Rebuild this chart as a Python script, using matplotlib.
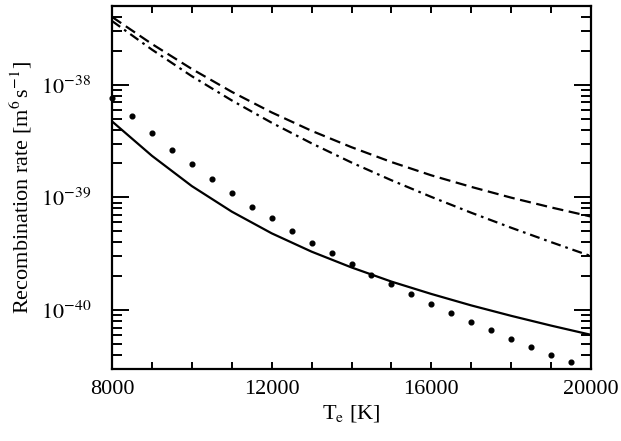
import numpy as np
import matplotlib
matplotlib.use("Agg")
import matplotlib.pyplot as plt
from matplotlib.ticker import FixedLocator, LogLocator, NullFormatter

plt.rcParams['font.family'] = ['Liberation Serif', 'DejaVu Serif']
plt.rcParams['mathtext.fontset'] = 'stix'

# temperatures of the curves [K]
T_line = [8000, 9000, 10000, 11000, 12000, 13000, 14000,
          15000, 16000, 17000, 18000, 19000, 20000]

# dashed curve
rate_dash = [4.00e-38, 2.30e-38, 1.38e-38, 8.65e-39, 5.68e-39, 3.90e-39, 2.79e-39,
             2.06e-39, 1.57e-39, 1.24e-39, 9.95e-40, 8.15e-40, 6.76e-40]
# dash-dot curve
rate_dashdot = [3.68e-38, 2.05e-38, 1.19e-38, 7.26e-39, 4.60e-39, 3.02e-39, 2.04e-39,
                1.42e-39, 1.01e-39, 7.31e-40, 5.38e-40, 4.01e-40, 3.01e-40]
# solid curve
rate_solid = [4.73e-39, 2.34e-39, 1.26e-39, 7.48e-40, 4.80e-40, 3.30e-40, 2.39e-40,
              1.79e-40, 1.39e-40, 1.10e-40, 8.89e-41, 7.28e-41, 6.03e-41]

# dotted points
T_dot = [8000, 8500, 9000, 9500, 10000, 10500, 11000, 11500, 12000, 12500,
         13000, 13500, 14000, 14500, 15000, 15500, 16000, 16500, 17000,
         17500, 18000, 18500, 19000, 19500]
rate_dot = [7.6e-39, 5.24e-39, 3.7e-39, 2.66e-39, 1.96e-39, 1.45e-39, 1.09e-39,
            8.3e-40, 6.5e-40, 5.03e-40, 3.97e-40, 3.18e-40, 2.54e-40, 2.05e-40,
            1.69e-40, 1.38e-40, 1.14e-40, 9.47e-41, 7.88e-41, 6.61e-41, 5.57e-41,
            4.74e-41, 4.02e-41, 3.44e-41]

x_ticks = [8000, 12000, 16000, 20000]

fig = plt.figure(figsize=(6.21, 4.41), dpi=100)
ax = fig.add_axes([0.1804, 0.1633, 0.7713, 0.8231])

ax.plot(T_line, rate_dash, color='black', lw=1.6, dashes=(5, 2.5))
ax.plot(T_line, rate_dashdot, color='black', lw=1.6, dashes=(4.5, 2.2, 1.2, 2.2))
ax.plot(T_line, rate_solid, color='black', lw=1.6)
ax.plot(T_dot, rate_dot, ls='none', marker='o', ms=3.4, color='black', clip_on=False)

ax.set_yscale('log')
ax.set_xlim(8000, 20000)
ax.set_ylim(3e-41, 5e-38)

ax.set_xticks(x_ticks)
ax.set_xticklabels([str(t) for t in x_ticks])
ax.xaxis.set_minor_locator(FixedLocator(np.arange(8000, 20001, 1000)))
ax.set_yticks([1e-40, 1e-39, 1e-38])
ax.set_yticklabels([r'$10^{-40}$', r'$10^{-39}$', r'$10^{-38}$'])
ax.yaxis.set_minor_locator(LogLocator(base=10, subs=np.arange(2, 10)))
ax.yaxis.set_minor_formatter(NullFormatter())

ax.tick_params(which='both', direction='in', top=True, right=True,
               labelsize=16, width=1.4)
ax.tick_params(axis='x', which='both', length=5, pad=8)
ax.tick_params(axis='y', which='major', length=12, pad=15)
ax.tick_params(axis='y', which='minor', length=7)

for s in ax.spines.values():
    s.set_linewidth(1.6)

ax.set_xlabel(r'T$_{\mathrm{e}}$ [K]', fontsize=16, labelpad=3)
ax.set_ylabel(r'Recombination rate [m$^{6}\,$s$^{-1}$]', fontsize=16, labelpad=5)

fig.savefig('out.png', dpi=100)
